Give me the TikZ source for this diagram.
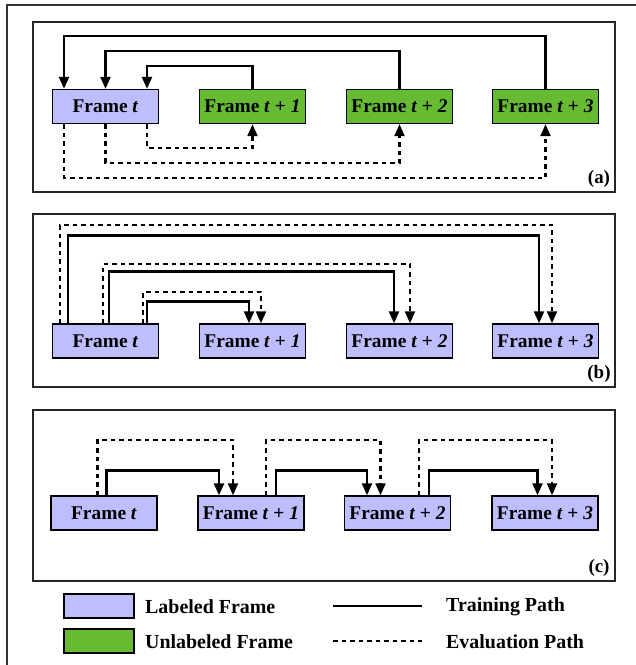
\documentclass[tikz,border=0pt]{standalone}
\usepackage{fontspec}
\setmainfont{Liberation Serif}
\usetikzlibrary{arrows.meta,calc}
\definecolor{lab}{RGB}{190,190,255}
\definecolor{unlab}{RGB}{102,187,51}
\begin{document}
\begin{tikzpicture}[x=1bp,y=-1bp,
  fbox/.style={draw=black,line width=1.4bp,minimum width=106bp,minimum height=34bp,inner sep=0pt,font=\fontsize{19.5}{21}\selectfont\bfseries},
  labf/.style={fbox,fill=lab},
  unlabf/.style={fbox,fill=unlab},
  panel/.style={draw=black!85,line width=1.2bp},
  tip/.style={-{Triangle[length=12bp,width=10bp]}},
  train/.style={line width=2.4bp},
  evalp/.style={line width=2.2bp,dash pattern=on 4.5bp off 4bp},
  plabel/.style={font=\fontsize{19}{21}\selectfont\bfseries,inner sep=0pt},
  legtext/.style={font=\fontsize{20}{22}\selectfont\bfseries,inner sep=0pt,anchor=west}
]
\useasboundingbox (0,0) rectangle (636,665);
% outer frame (cropped)
\draw[line width=2bp,black!80] (7,670) -- (7,5.5) -- (640,5.5);

% panels
\draw[panel] (33,22) rectangle (615,192);
\draw[panel] (33,214) rectangle (615,387);
\draw[panel] (33,410) rectangle (615,581);
\node[plabel] (la) at (599,179) {(a)};
\node[plabel] (lb) at (599,374) {(b)};
\node[plabel] (lc) at (599,568) {(c)};

% ---------- (a)
\node[labf]   (a0) at (105.5,106.5) {Frame \textit{t}};
\node[unlabf] (a1) at (252.5,106.5) {Frame \textit{t} + \textit{1}};
\node[unlabf] (a2) at (399.5,106.5) {Frame \textit{t} + \textit{2}};
\node[unlabf] (a3) at (545.5,106.5) {Frame \textit{t} + \textit{3}};

\draw[train,tip] (a1.north) -- ++(0,-22.5) -| ($(a0.north)+(41.5,0)$);
\draw[train,tip] (a2.north) -- ++(0,-37.5) -| ($(a0.north)+(0,0)$);
\draw[train,tip] (a3.north) -- ++(0,-52.5) -| ($(a0.north)+(-41.5,0)$);

\draw[evalp,tip] ($(a0.south)+(41.5,0)$) -- ++(0,23.5) -| (a1.south);
\draw[evalp,tip] ($(a0.south)+(0,0)$) -- ++(0,38.5) -| (a2.south);
\draw[evalp,tip] ($(a0.south)+(-41.5,0)$) -- ++(0,53.5) -| (a3.south);

% ---------- (b)
\node[labf] (b0) at (105.5,341) {Frame \textit{t}};
\node[labf] (b1) at (252.5,341) {Frame \textit{t} + \textit{1}};
\node[labf] (b2) at (399.5,341) {Frame \textit{t} + \textit{2}};
\node[labf] (b3) at (545.5,341) {Frame \textit{t} + \textit{3}};

\draw[evalp,tip] ($(b0.north)+(-45.5,0)$) -- ++(0,-98) -| ($(b3.north)+(6.5,0)$);
\draw[train,tip] ($(b0.north)+(-37.5,0)$) -- ++(0,-88) -| ($(b3.north)+(-6.5,0)$);
\draw[evalp,tip] ($(b0.north)+(-2.5,0)$) -- ++(0,-59) -| ($(b2.north)+(10.5,0)$);
\draw[train,tip] ($(b0.north)+(3.5,0)$) -- ++(0,-52) -| ($(b2.north)+(-5.5,0)$);
\draw[evalp,tip] ($(b0.north)+(37.5,0)$) -- ++(0,-31) -| ($(b1.north)+(8.5,0)$);
\draw[train,tip] ($(b0.north)+(41.5,0)$) -- ++(0,-22) -| ($(b1.north)+(-3.5,0)$);

% ---------- (c)
\node[labf] (c0) at (104,513) {Frame \textit{t}};
\node[labf] (c1) at (251,513) {Frame \textit{t} + \textit{1}};
\node[labf] (c2) at (397.5,513) {Frame \textit{t} + \textit{2}};
\node[labf] (c3) at (545,513) {Frame \textit{t} + \textit{3}};

\draw[evalp,tip] ($(c0.north)+(-6.5,0)$) -- ++(0,-55) -| ($(c1.north)+(-18,0)$);
\draw[train,tip] ($(c0.north)+(2.5,0)$) -- ++(0,-25) -| ($(c1.north)+(-32,0)$);
\draw[evalp,tip] ($(c1.north)+(15,0)$) -- ++(0,-55) -| ($(c2.north)+(-17,0)$);
\draw[train,tip] ($(c1.north)+(25,0)$) -- ++(0,-25) -| ($(c2.north)+(-30.5,0)$);
\draw[evalp,tip] ($(c2.north)+(21.5,0)$) -- ++(0,-55) -| ($(c3.north)+(7,0)$);
\draw[train,tip] ($(c2.north)+(31.5,0)$) -- ++(0,-25) -| ($(c3.north)+(-7.5,0)$);

% ---------- legend
\node[draw=black,line width=1.4bp,fill=lab,minimum width=70bp,minimum height=24bp,inner sep=0pt] (k1) at (99,606) {};
\node[draw=black,line width=1.4bp,fill=unlab,minimum width=70bp,minimum height=24bp,inner sep=0pt] (k2) at (99,641) {};
\node[legtext] (t1) at (145,607) {Labeled Frame};
\node[legtext] (t2) at (145,642) {Unlabeled Frame};
\coordinate (s1) at (333,606);
\coordinate (s2) at (422,606);
\coordinate (d1) at (333,641);
\coordinate (d2) at (422,641);
\draw[train] (s1) -- (s2);
\draw[evalp] (d1) -- (d2);
\node[legtext] (t3) at (446,607) {Training Path};
\node[legtext] (t4) at (446,642) {Evaluation Path};
\end{tikzpicture}
\end{document}
